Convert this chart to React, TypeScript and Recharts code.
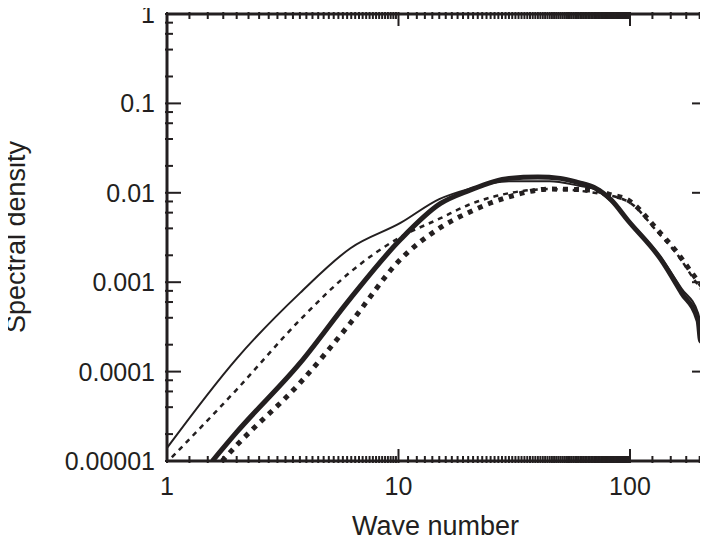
import { LineChart, Line, XAxis, YAxis } from "recharts";

// Spectral density vs wave number, four runs, log-log axes.
const thinSolid = [
  { k: 1, v: 1.4e-5 }, { k: 2, v: 1.4e-4 }, { k: 3.76, v: 7.6e-4 }, { k: 6.2, v: 2.4e-3 },
  { k: 10.2, v: 4.6e-3 }, { k: 15, v: 8.5e-3 }, { k: 20, v: 1.1e-2 }, { k: 30, v: 1.35e-2 },
  { k: 45, v: 1.35e-2 }, { k: 60, v: 1.2e-2 }, { k: 70, v: 1.1e-2 }, { k: 83, v: 8.0e-3 },
  { k: 98, v: 5.0e-3 }, { k: 136, v: 1.9e-3 }, { k: 167, v: 8.5e-4 }, { k: 197, v: 4.5e-4 },
  { k: 205, v: 3.0e-4 }, { k: 213, v: 6.0e-4 },
];
const thickSolid = [
  { k: 1.57, v: 1.0e-5 }, { k: 2, v: 2.1e-5 }, { k: 3.76, v: 1.25e-4 }, { k: 6.2, v: 6.6e-4 },
  { k: 10.2, v: 3.0e-3 }, { k: 15.2, v: 7.6e-3 }, { k: 20, v: 1.05e-2 }, { k: 30, v: 1.45e-2 },
  { k: 40, v: 1.5e-2 }, { k: 50, v: 1.45e-2 }, { k: 60, v: 1.3e-2 }, { k: 70, v: 1.15e-2 },
  { k: 83, v: 8.3e-3 }, { k: 98, v: 4.9e-3 }, { k: 136, v: 1.8e-3 }, { k: 167, v: 7.6e-4 },
  { k: 197, v: 3.7e-4 }, { k: 202, v: 2.2e-4 }, { k: 213, v: 8.0e-4 },
];
const thinDashed = [
  { k: 1.05, v: 1.1e-5 }, { k: 2, v: 6.3e-5 }, { k: 3.76, v: 3.8e-4 }, { k: 6.2, v: 1.3e-3 },
  { k: 10.2, v: 3.2e-3 }, { k: 15.2, v: 5.2e-3 }, { k: 20, v: 7.3e-3 }, { k: 30, v: 9.9e-3 },
  { k: 45, v: 1.1e-2 }, { k: 70, v: 1.0e-2 }, { k: 98, v: 8.0e-3 }, { k: 132, v: 3.6e-3 },
  { k: 161, v: 2.0e-3 }, { k: 188, v: 1.1e-3 }, { k: 213, v: 7.0e-4 },
];
const thickDotted = [
  { k: 1.73, v: 1.0e-5 }, { k: 2, v: 1.5e-5 }, { k: 3.76, v: 7.5e-5 }, { k: 6.2, v: 3.5e-4 },
  { k: 10.2, v: 1.8e-3 }, { k: 15.2, v: 4.1e-3 }, { k: 20, v: 6.0e-3 }, { k: 30, v: 9.0e-3 },
  { k: 45, v: 1.1e-2 }, { k: 70, v: 1.07e-2 }, { k: 83, v: 9.5e-3 }, { k: 98, v: 8.3e-3 },
  { k: 132, v: 3.8e-3 }, { k: 161, v: 2.1e-3 }, { k: 188, v: 1.2e-3 }, { k: 213, v: 8.0e-4 },
];

const xMajor = [1, 10, 100];
const xTicks: number[] = [];
for (let i = 0; i <= 36; i++) xTicks.push(1 + i * 0.25);
for (let i = 11; i <= 100; i++) xTicks.push(i);
xTicks.push(125, 150, 175, 200);

const yMajor = [1e-5, 1e-4, 1e-3, 1e-2, 1e-1, 1];
const yLabels = ["0.00001", "0.0001", "0.001", "0.01", "0.1", "1"];
const yTicks: number[] = [];
yMajor.forEach((d, i) => {
  yTicks.push(d);
  if (i < yMajor.length - 1) [2, 4, 6, 8].forEach((m) => yTicks.push(d * m));
});

const FONT = "Liberation Sans, Arial, sans-serif";
const isMajor = (v: number, list: number[]) => list.some((m) => Math.abs(v / m - 1) < 1e-6);

function XTick({ x, y, payload, side }: any) {
  const major = isMajor(payload.value, xMajor);
  const len = major ? 14 : 7;
  const dir = side === "top" ? 1 : -1;
  return (
    <g>
      <line x1={x} x2={x} y1={y} y2={y + dir * len} stroke="#231f20" strokeWidth={2} />
      {side !== "top" && major && (
        <text x={x} y={y + 32} textAnchor="middle" fontSize={25} fontFamily={FONT} fill="#231f20">
          {payload.value}
        </text>
      )}
    </g>
  );
}

function YTick({ x, y, payload, side }: any) {
  const idx = yMajor.findIndex((m) => Math.abs(payload.value / m - 1) < 1e-6);
  const len = idx >= 0 ? 16 : 8;
  const dir = side === "right" ? -1 : 1;
  return (
    <g>
      <line x1={x} x2={x + dir * len} y1={y} y2={y} stroke="#231f20" strokeWidth={2} />
      {side !== "right" && idx >= 0 && (
        <text x={x - 10} y={y + 9} textAnchor="end" fontSize={25} fontFamily={FONT} fill="#231f20">
          {yLabels[idx]}
        </text>
      )}
    </g>
  );
}

export default function App() {
  const axisLine = { stroke: "#231f20", strokeWidth: 3 };
  return (
    <div style={{ margin: -8, width: 708, height: 546, background: "#fff", position: "relative" }}>
      <LineChart width={708} height={546} margin={{ top: 13, right: 1, bottom: 0, left: 47 }}>
        <XAxis
          xAxisId="b" dataKey="k" type="number" scale="log" domain={[1, 213]} ticks={xTicks}
          interval={0} tickSize={0} axisLine={axisLine} tick={<XTick side="bottom" />}
          height={85} allowDataOverflow
        />
        <XAxis
          xAxisId="t" orientation="top" dataKey="k" type="number" scale="log" domain={[1, 213]}
          ticks={xTicks} interval={0} tickSize={0} axisLine={axisLine} tick={<XTick side="top" />}
          height={1} allowDataOverflow
        />
        <YAxis
          yAxisId="l" dataKey="v" type="number" scale="log" domain={[1e-5, 1]} ticks={yTicks}
          interval={0} tickSize={0} axisLine={axisLine} tick={<YTick side="left" />}
          width={120} allowDataOverflow
        />
        <YAxis
          yAxisId="r" orientation="right" dataKey="v" type="number" scale="log" domain={[1e-5, 1]}
          ticks={yTicks} interval={0} tickSize={0} axisLine={axisLine} tick={<YTick side="right" />}
          width={1} allowDataOverflow
        />
        <Line xAxisId="b" yAxisId="l" data={thinSolid} dataKey="v" type="monotone" stroke="#231f20"
          strokeWidth={2} dot={false} isAnimationActive={false} />
        <Line xAxisId="b" yAxisId="l" data={thinDashed} dataKey="v" type="monotone" stroke="#231f20"
          strokeWidth={2.5} strokeDasharray="5 5" dot={false} isAnimationActive={false} />
        <Line xAxisId="b" yAxisId="l" data={thickDotted} dataKey="v" type="monotone" stroke="#231f20"
          strokeWidth={5} strokeDasharray="5 6" dot={false} isAnimationActive={false} />
        <Line xAxisId="b" yAxisId="l" data={thickSolid} dataKey="v" type="monotone" stroke="#231f20"
          strokeWidth={5} dot={false} isAnimationActive={false} />
      </LineChart>
      <div style={{ position: "absolute", left: 0, top: 511, width: 708, paddingLeft: 167, boxSizing: "border-box",
        textAlign: "center", fontFamily: FONT, fontSize: 27, color: "#231f20", lineHeight: "30px" }}>
        <span style={{ position: "relative", left: -2 }}>Wave number</span>
      </div>
      <div style={{ position: "absolute", left: 16, top: 237, fontFamily: FONT, fontSize: 27, color: "#231f20",
        transform: "translate(-50%, -50%) rotate(-90deg)", whiteSpace: "nowrap" }}>
        Spectral density
      </div>
    </div>
  );
}
